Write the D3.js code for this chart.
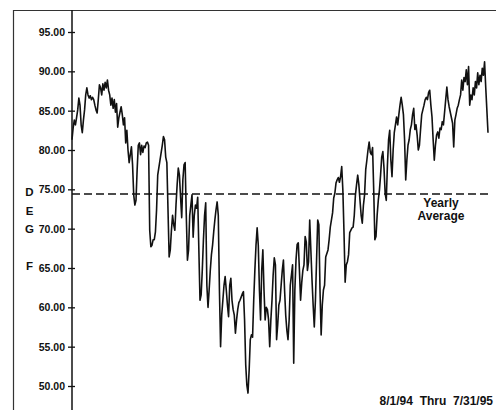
<!DOCTYPE html>
<html>
<head>
<meta charset="utf-8">
<script src="https://cdn.jsdelivr.net/npm/d3@7"></script>
<style>
  html, body { margin: 0; padding: 0; background: #fff; }
  svg { display: block; }
  text { font-family: "Liberation Sans", Arial, Helvetica, sans-serif; font-weight: bold; fill: #111; }
</style>
</head>
<body>
<svg id="chart" width="496" height="410"></svg>
<script>
// Daily temperature, 8/1/94 through 7/31/95 (day offsets from 8/1/94, deg F)
const dayOffsets = [
  0,1,2,3,4,5,6,7,8,9,10,11,12,13,14,15,16,17,18,19,20,21,22,23,24,25,26,27,28,29,
  30,31,32,33,34,35,36,37,38,39,40,41,42,43,44,45,46,47,48,49,50,51,52,53,54,55,56,57,58,59,
  60,61,62,63,64,65,66,67,68,69,70,71,72,73,74,75,77,79,80,81,82,83,84,85,86,87,88,89,90,91,
  92,93,94,95,96,97,98,99,100,101,102,103,104,105,106,107,108,109,110,111,112,113,114,115,116,117,118,119,120,121,
  122,123,124,125,126,127,128,129,130,131,132,133,134,135,136,137,138,139,140,141,142,143,144,145,146,147,148,149,150,151,
  152,153,154,155,156,157,158,159,160,161,162,163,164,165,166,167,168,169,170,171,172,173,174,175,176,177,178,179,180,181,
  182,183,184,185,186,187,188,189,190,191,192,193,194,195,196,197,198,199,200,201,202,203,204,205,206,207,208,209,210,211,
  212,213,214,215,216,217,218,219,220,221,222,224,225,226,228,229,230,231,232,233,234,235,236,237,238,239,240,241,242,243,
  245,246,247,248,249,250,251,252,253,254,255,256,257,258,259,260,261,262,263,264,265,266,267,268,269,270,271,272,273,274,
  275,276,277,278,279,280,281,282,283,284,285,286,287,288,289,290,291,292,293,294,295,296,297,298,299,300,301,302,303,304,
  305,306,307,308,309,310,311,312,313,314,315,316,317,318,319,320,321,322,323,324,325,326,327,328,329,330,331,332,333,334,
  335,336,337,338,339,340,341,342,343,344,345,346,347,348,349,350,351,352,353,354,355,356,357,358,359,360,361,362,363,364
];
const degF = [
  81.3,82.8,83.8,83.2,84.1,85.1,86.6,85.7,83.2,82.2,83.8,85.1,87.0,87.9,87.0,86.6,86.9,86.4,86.7,86.4,85.7,85.1,84.7,86.4,88.3,87.9,87.0,88.4,87.6,88.6,
  87.9,88.9,87.6,87.0,85.7,86.6,85.3,86.4,84.8,85.9,82.9,84.1,84.8,85.5,84.5,83.2,84.1,80.9,82.5,80.0,78.4,79.4,80.4,78.1,74.3,73.0,73.6,77.5,80.6,80.9,
  79.4,80.6,79.7,80.5,80.3,80.9,81.0,80.6,69.8,67.7,67.9,68.6,68.6,69.6,72.4,76.8,78.7,80.6,81.7,81.3,79.1,78.4,72.4,66.4,67.3,69.8,71.7,70.5,69.8,73.0,
  75.6,77.7,76.8,74.0,71.4,76.2,78.1,78.4,71.7,66.0,67.3,71.7,73.0,74.3,68.9,71.7,73.0,72.6,74.0,67.3,60.9,61.6,64.7,68.6,71.7,73.3,62.8,60.0,62.2,64.7,
  66.7,67.9,69.6,71.1,72.4,73.4,71.7,62.2,55.0,59.0,60.9,62.8,63.9,62.2,60.3,58.8,62.8,63.7,60.9,59.7,59.0,56.7,58.4,59.7,60.6,60.9,61.3,61.7,62.0,58.4,
  52.7,50.1,49.1,52.0,55.9,56.5,56.2,60.9,64.7,67.9,70.1,67.9,62.2,58.4,64.7,67.3,62.2,58.4,60.0,59.7,58.4,55.0,58.4,60.9,64.1,66.3,65.4,55.9,57.8,60.3,
  60.9,62.8,64.7,66.0,62.2,59.0,57.1,55.9,58.4,62.8,64.1,65.4,52.9,62.2,66.0,68.0,68.2,64.7,60.9,63.1,64.7,65.4,69.0,68.3,64.7,65.8,71.1,67.3,63.5,60.3,
  57.5,60.9,66.0,71.1,70.5,62.2,56.5,60.3,62.2,62.8,66.4,67.3,68.6,70.2,72.0,73.9,74.5,75.8,76.2,76.5,75.9,76.6,77.9,74.9,69.5,63.2,65.4,65.8,66.7,69.5,
  70.1,70.2,71.7,74.3,75.6,76.8,75.6,73.6,71.7,70.7,73.0,74.3,77.5,78.7,80.0,81.0,79.7,79.4,80.3,74.9,68.6,69.0,71.7,73.6,74.9,76.8,79.1,79.8,77.7,74.5,
  73.6,78.1,81.3,82.5,78.7,76.6,80.0,82.2,83.2,84.2,83.2,84.5,85.7,86.7,85.7,84.5,81.3,76.2,78.7,80.6,81.3,82.6,83.2,84.5,85.3,82.6,83.2,81.9,80.0,80.6,
  82.6,84.5,85.1,85.7,86.4,86.7,86.4,87.3,87.6,85.7,84.2,81.3,78.7,80.6,81.9,82.3,81.5,82.8,82.6,83.6,83.2,84.8,86.4,88.0,86.4,85.5,84.8,84.1,83.4,80.4,
  83.8,84.5,85.3,85.7,86.4,87.0,88.9,87.6,89.2,88.7,90.2,88.3,90.6,85.7,87.0,86.4,87.9,87.0,88.7,87.9,89.8,88.3,89.5,88.7,90.4,89.5,91.2,88.0,85.1,82.2
];
const yTicks = [50, 55, 60, 65, 70, 75, 80, 85, 90, 95];
const yearlyAverage = 74.4;
const unitLetters = ["D", "E", "G", "F"];
const periodLabel = "8/1/94  Thru  7/31/95";
const averageLabel = ["Yearly", "Average"];

const startDate = new Date(Date.UTC(1994, 7, 1));
const endDate = new Date(Date.UTC(1995, 6, 31));
const series = dayOffsets.map((d, i) => ({ date: d3.utcDay.offset(startDate, d), value: degF[i] }));

const svg = d3.select("#chart");
const axisX = 72;

const x = d3.scaleUtc().domain([startDate, endDate]).range([axisX, 488]);
const y = d3.scaleLinear().domain([50, 95]).range([386, 32]);

// Outer frame (top and left edges)
svg.append("path")
  .attr("d", "M13.5,410 L13.5,10.5 L496,10.5")
  .attr("fill", "none")
  .attr("stroke", "#333")
  .attr("stroke-width", 1.2);

// Yearly average reference line
svg.append("line")
  .attr("x1", axisX).attr("x2", 489)
  .attr("y1", y(yearlyAverage)).attr("y2", y(yearlyAverage))
  .attr("stroke", "#111")
  .attr("stroke-width", 1.6)
  .attr("stroke-dasharray", "8,4");

// Temperature trace
const line = d3.line().x(d => x(d.date)).y(d => y(d.value));
svg.append("path")
  .datum(series)
  .attr("d", line)
  .attr("fill", "none")
  .attr("stroke", "#111")
  .attr("stroke-width", 1.6)
  .attr("stroke-linejoin", "round");

// Y axis: full-height spine plus crossing ticks
svg.append("line")
  .attr("x1", axisX).attr("x2", axisX)
  .attr("y1", 10).attr("y2", 410)
  .attr("stroke", "#111")
  .attr("stroke-width", 1.5);

const yAxis = svg.append("g")
  .attr("transform", `translate(${axisX},0)`)
  .call(d3.axisLeft(y).tickValues(yTicks).tickFormat(d3.format(".2f")).tickSize(4).tickPadding(3));
yAxis.select(".domain").remove();
yAxis.selectAll(".tick line").attr("x2", -4).attr("x1", 3).attr("stroke", "#111").attr("stroke-width", 1.3);
yAxis.selectAll(".tick text")
  .attr("font-family", "Liberation Sans, Arial, sans-serif")
  .attr("font-weight", "bold")
  .attr("font-size", 10.5)
  .attr("fill", "#111");

// Unit letters down the left margin
const letterY = [196, 215, 233, 270];
svg.selectAll("text.unit")
  .data(unitLetters)
  .join("text")
  .attr("class", "unit")
  .attr("x", 29.5)
  .attr("y", (d, i) => letterY[i])
  .attr("text-anchor", "middle")
  .attr("font-size", 11.5)
  .text(d => d);

// Average label
svg.selectAll("text.avg")
  .data(averageLabel)
  .join("text")
  .attr("class", "avg")
  .attr("x", 441)
  .attr("y", (d, i) => 207 + i * 13)
  .attr("text-anchor", "middle")
  .attr("font-size", 12)
  .text(d => d);

// Period label
svg.append("text")
  .attr("x", 493)
  .attr("y", 405)
  .attr("text-anchor", "end")
  .attr("font-size", 12)
  .style("white-space", "pre")
  .text(periodLabel);
</script>
</body>
</html>
